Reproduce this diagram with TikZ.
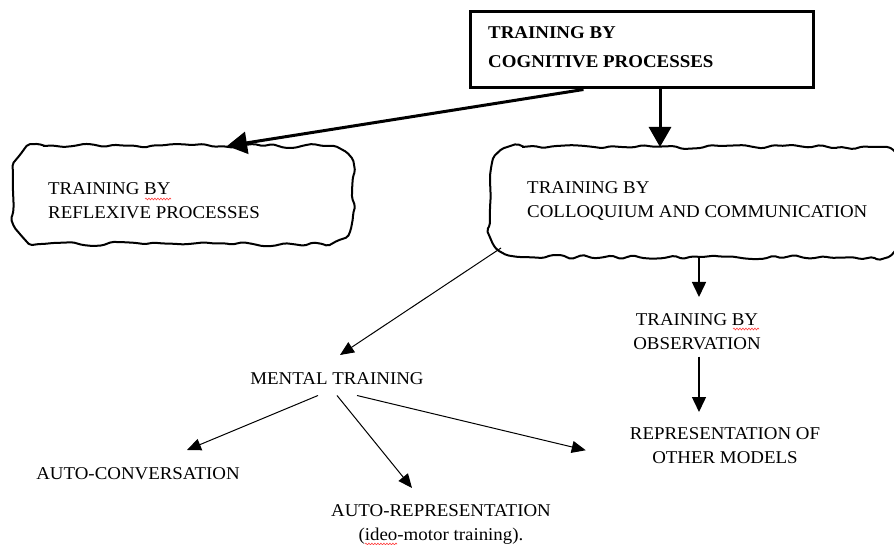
\documentclass[tikz,border=0pt]{standalone}
\usepackage{fontspec}
\setmainfont{Liberation Serif}[FakeStretch=1.05]
\usetikzlibrary{arrows.meta,decorations.pathmorphing}
\newcommand\mycloud[2]{%
  \draw[cloudline] ([xshift=#2]#1.north west) -- ([xshift=-#2]#1.north east)
    arc[start angle=90,end angle=0,radius=#2] -- ([yshift=#2]#1.south east)
    arc[start angle=0,end angle=-90,radius=#2] -- ([xshift=#2]#1.south west)
    arc[start angle=270,end angle=180,radius=#2] -- ([yshift=-#2]#1.north west)
    arc[start angle=180,end angle=90,radius=#2] -- cycle;}
\begin{document}
\begin{tikzpicture}[x=1pt,y=-1pt,
  lbl/.style={inner sep=0pt, font=\fontsize{18}{24}\selectfont, align=center},
  cloudbox/.style={inner sep=0pt, outer sep=0pt},
  cloudline/.style={line width=2pt, rounded corners=2pt, line join=round,
    decorate, decoration={random steps, segment length=10pt, amplitude=2.2pt}},
  thickarrow/.style={line width=3pt, -{Triangle[length=20pt,width=22pt]}},
  midarrow/.style={line width=1.5pt, -{Triangle[length=15pt,width=14pt]}},
  thinarrow/.style={line width=1pt, -{Triangle[length=14pt,width=12pt]}},
  spell/.style={red!75, line width=0.6pt, decorate,
    decoration={snake, amplitude=0.9pt, segment length=3pt}}]
\pgfmathsetseed{7}
\useasboundingbox (0,0) rectangle (894,545);
\clip (0,0) rectangle (894,545);
\fill[white] (0,0) rectangle (894,545);

% top box
\node[draw, line width=3pt, minimum width=343pt, minimum height=76pt, inner sep=0pt] (cog) at (641.5,50) {};
\node[lbl, anchor=north west, align=left, font=\bfseries\fontsize{18}{29}\selectfont] (cogtext) at (488,26) {TRAINING BY\\COGNITIVE PROCESSES};

% clouds
\node[cloudbox, minimum width=340pt, minimum height=98pt] (reflcloud) at (183,195) {};
\mycloud{reflcloud}{28pt}
\node[lbl, anchor=north west, align=left] (refltext) at (48,182) {TRAINING BY\\REFLEXIVE PROCESSES};

\node[cloudbox, minimum width=415pt, minimum height=110pt] (colcloud) at (697.5,202) {};
\mycloud{colcloud}{30pt}
\node[lbl, anchor=north west, align=left] (coltext) at (527,181) {TRAINING BY\\COLLOQUIUM AND COMMUNICATION};

% plain labels
\node[lbl, anchor=north] (mental) at (337,372) {MENTAL TRAINING};
\node[lbl, anchor=north] (obs) at (697,313) {TRAINING BY\\OBSERVATION};
\node[lbl, anchor=north] (repr) at (725,427) {REPRESENTATION OF\\OTHER MODELS};
\node[lbl, anchor=north] (autoconv) at (138,467) {AUTO-CONVERSATION};
\node[lbl, anchor=north] (autorep) at (441,504) {AUTO-REPRESENTATION\\(ideo-motor training).};

% connectors
\draw[thickarrow] ([xshift=-58pt]cog.south) -- ([xshift=44pt]reflcloud.north);
\draw[thickarrow] ([xshift=18.5pt]cog.south) -- ([xshift=-37.5pt]colcloud.north);
\draw[thinarrow] ([xshift=11pt,yshift=9pt]colcloud.south west) -- ([xshift=3pt,yshift=17pt]mental.north);
\draw[thinarrow] ([xshift=-19pt,yshift=-11pt]mental.south) -- ([xshift=49pt,yshift=17pt]autoconv.north);
\draw[thinarrow] ([yshift=-11pt]mental.south) -- ([xshift=-29pt,yshift=16pt]autorep.north);
\draw[thinarrow] ([xshift=20pt,yshift=-11pt]mental.south) -- ([xshift=-44pt,yshift=-5pt]repr.west);
\draw[midarrow] ([xshift=1.5pt]colcloud.south) -- ([xshift=2pt,yshift=16pt]obs.north);
\draw[midarrow] ([xshift=2pt,yshift=-7pt]obs.south) -- ([xshift=-26pt,yshift=15pt]repr.north);

% spell-check marks
\draw[spell] (145,199) -- (171,199);
\draw[spell] (733,329) -- (759,329);
\draw[spell] (365,544) -- (397,544);
\end{tikzpicture}
\end{document}
